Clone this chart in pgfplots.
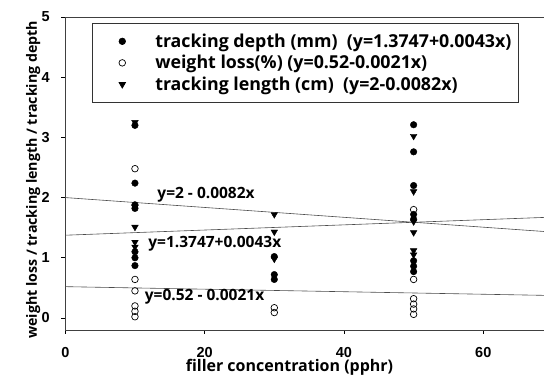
\documentclass[border=0pt]{standalone}
\usepackage{pgfplots}
\pgfplotsset{compat=1.18}
\usepackage{fontspec}
\setmainfont{Open Sans}
\newfontfamily\arialf{Liberation Sans}
\begin{document}
\begin{tikzpicture}
\begin{axis}[
  scale only axis,
  width=480.7pt, height=313pt,
  xmin=0, xmax=69, ymin=-0.2, ymax=5,
  xtick={0,20,40,60}, ytick={0,1,2,3,4,5},
  xtick pos=bottom, ytick pos=left,
  tick align=outside, major tick length=4pt,
  tick style={black, line width=0.6pt},
  axis line style={black!75, line width=0.8pt},
  /pgf/number format/assume math mode=true,
  ticklabel style={font=\arialf\bfseries\fontsize{14.5}{14.5}\selectfont},
  xticklabel style={anchor=center, inner sep=0pt, yshift=-18.3pt},
  yticklabel style={anchor=east, inner sep=0pt, xshift=-11.5pt},
  xlabel={filler concentration (pphr)},
  ylabel={weight loss / tracking length / tracking depth},
  xlabel style={font=\bfseries\fontsize{16}{16}\selectfont, inner sep=0pt, at={(axis description cs:0.4664,-0.1180)}, anchor=center},
  ylabel style={font=\bfseries\fontsize{14.2}{14.2}\selectfont, inner sep=0pt, at={(axis description cs:-0.0666,0.48)}, anchor=center, rotate=0},
  legend style={draw=black!80, line width=0.6pt, at={(axis cs:3.83,4.90)}, anchor=north west,
    inner xsep=5pt, inner ysep=8.5pt, row sep=2.5pt,
    font=\bfseries\fontsize{17.8}{17.8}\selectfont,
    nodes={inner sep=2pt},
    /tikz/every odd column/.append style={column sep=22pt}},
  legend cell align=left,
  legend image code/.code={\path[draw=none, fill=none] (0pt,-1pt) rectangle (34pt,1pt); \draw[#1, only marks] plot coordinates {(25pt,0pt)};},
]
\addplot[only marks, mark=*, mark size=3.3pt, mark options={fill=black, draw=black}] coordinates {
 (10,3.2) (10,2.24) (10,1.88) (10,1.82) (10,1.1) (10,1.0) (10,0.87)
 (30,1.02) (30,0.72) (30,0.64)
 (50,3.21) (50,2.76) (50,2.2) (50,1.72) (50,1.64) (50,0.95) (50,0.86) (50,0.77)
};
\addlegendentry{tracking depth (mm)\ \ (y=1.3747+0.0043x)}
\addplot[only marks, mark=o, mark size=3.3pt, mark options={fill=white, draw=black, line width=0.7pt}] coordinates {
 (10,2.48) (10,0.64) (10,0.45) (10,0.2) (10,0.11) (10,0.02)
 (30,0.17) (30,0.09)
 (50,1.8) (50,0.64) (50,0.32) (50,0.23) (50,0.15) (50,0.06)
};
\addlegendentry{weight loss(\%) (y=0.52-0.0021x)}
\addplot[only marks, mark=triangle*, mark size=3.8pt, mark options={fill=black, draw=black, rotate=180}] coordinates {
 (10,3.25) (10,1.84) (10,1.51) (10,1.26) (10,1.18)
 (30,1.72) (30,1.43) (30,0.98)
 (50,3.02) (50,2.1) (50,1.6) (50,1.42) (50,1.12) (50,1.05)
};
\addlegendentry{tracking length (cm)\ \ (y=2-0.0082x)}
\addplot[forget plot, black!70, line width=0.6pt] coordinates {(0,2) (69,1.4342)};
\addplot[forget plot, black!70, line width=0.6pt] coordinates {(0,1.3747) (69,1.6714)};
\addplot[forget plot, black!70, line width=0.6pt] coordinates {(0,0.52) (69,0.3751)};
\node[anchor=west, inner sep=0pt, font=\bfseries\fontsize{15.5}{15.5}\selectfont] at (axis cs:13.2,2.04) {y=2 - 0.0082x};
\node[anchor=west, inner sep=0pt, font=\bfseries\fontsize{15.5}{15.5}\selectfont] at (axis cs:11.9,1.24) {y=1.3747+0.0043x};
\node[anchor=west, inner sep=0pt, font=\bfseries\fontsize{15.5}{15.5}\selectfont] at (axis cs:11.4,0.35) {y=0.52 - 0.0021x};
\end{axis}
\pgfresetboundingbox
\useasboundingbox (-65.3pt,-47pt) rectangle (478.7pt,330pt);
\end{tikzpicture}
\end{document}
